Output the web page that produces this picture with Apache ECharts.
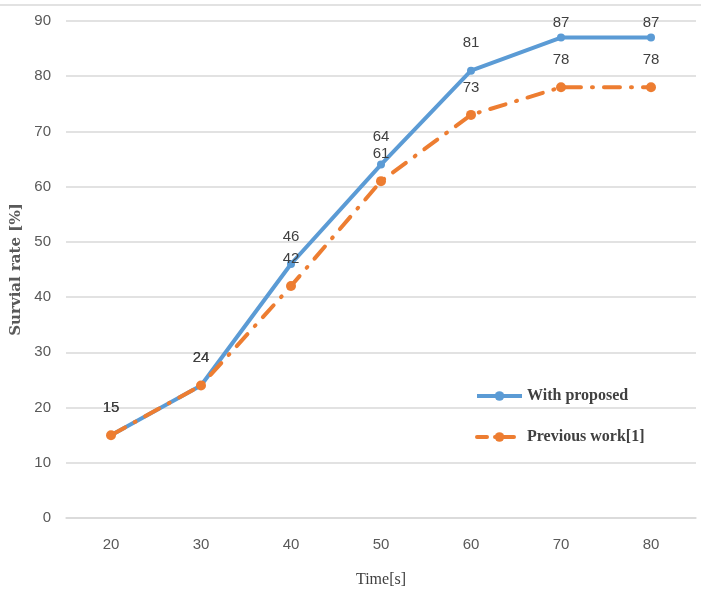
<!DOCTYPE html>
<html lang="en">
<head>
    <meta charset="UTF-8"/>
    <title>Survival Rate</title>
    <script src="https://cdn.jsdelivr.net/npm/echarts@6/dist/echarts.min.js"></script>
    <style>
        html, body { margin: 0; padding: 0; background: #fff; }
    </style>
</head>
<body>

<div id="main" style="width:701px; height:593px;"></div>

<script type="text/javascript">

    // time steps on the x axis
    var times = ['20', '30', '40', '50', '60', '70', '80'];

    // survival rate in percent
    var withProposed = [15, 24, 46, 64, 81, 87, 87];
    var previousWork = [15, 24, 42, 61, 73, 78, 78];

    var seriesNames = ['With proposed', 'Previous work[1]'];

    var labelFont = "'Liberation Sans', 'Noto Sans', sans-serif";
    var serifFont = "'Liberation Serif', 'DejaVu Serif', serif";

    var blue = '#5b9bd5';
    var orange = '#ed7d31';
    var dashDot = [16, 11, 1, 11];

    // labels close to the top of the plot sit nearer their point
    function withLabels(values, near) {
        return values.map(function (v) {
            if (v > 85) {
                return { value: v, label: { distance: near } };
            }
            return v;
        });
    }

    var myChart = echarts.init(document.getElementById('main'));

    var option = {
        animation: false,
        backgroundColor: '#ffffff',
        grid: {
            left: 66,
            right: 5,
            top: 21,
            bottom: 75
        },
        graphic: [{
            type: 'line',
            shape: { x1: 0, y1: 5, x2: 701, y2: 5 },
            style: { stroke: '#d9d9d9', lineWidth: 1.5 }
        }],
        legend: {
            orient: 'vertical',
            left: 470,
            top: 383,
            itemWidth: 45,
            itemHeight: 12,
            itemGap: 25,
            lineStyle: { width: 4 },
            textStyle: {
                fontFamily: serifFont,
                fontWeight: 'bold',
                fontSize: 16,
                color: '#404040'
            },
            data: [
                { name: seriesNames[0] },
                { name: seriesNames[1], lineStyle: { type: [10, 8, 1, 8], cap: 'round' } }
            ]
        },
        xAxis: {
            type: 'category',
            data: times,
            boundaryGap: true,
            name: 'Time[s]',
            nameLocation: 'middle',
            nameGap: 54,
            nameTextStyle: {
                fontFamily: serifFont,
                fontSize: 16,
                color: '#404040'
            },
            axisLine: { lineStyle: { color: '#d9d9d9', width: 1.5 } },
            axisTick: { show: false },
            axisLabel: {
                margin: 19,
                fontFamily: labelFont,
                fontSize: 15,
                color: '#595959'
            }
        },
        yAxis: {
            type: 'value',
            min: 0,
            max: 90,
            interval: 10,
            name: 'Survial rate [%]',
            nameLocation: 'middle',
            nameGap: 37,
            nameTextStyle: {
                fontFamily: "'DejaVu Serif', 'Liberation Serif', serif",
                fontWeight: 'bold',
                fontSize: 15,
                color: '#595959'
            },
            axisLine: { show: false },
            axisTick: { show: false },
            axisLabel: {
                margin: 15,
                fontFamily: labelFont,
                fontSize: 15,
                color: '#595959'
            },
            splitLine: { lineStyle: { color: '#d9d9d9', width: 1.5 } }
        },
        series: [
            {
                name: seriesNames[0],
                type: 'line',
                data: withLabels(withProposed, 3),
                symbol: 'circle',
                symbolSize: 8,
                itemStyle: { color: blue },
                lineStyle: { color: blue, width: 4 },
                label: {
                    show: true,
                    position: 'top',
                    distance: 16,
                    fontFamily: labelFont,
                    fontSize: 15,
                    color: '#404040'
                }
            },
            {
                name: seriesNames[1],
                type: 'line',
                data: previousWork,
                symbol: 'circle',
                symbolSize: 10,
                itemStyle: { color: orange },
                lineStyle: {
                    color: orange,
                    width: 4,
                    type: dashDot,
                    cap: 'round'
                },
                label: {
                    show: true,
                    position: 'top',
                    distance: 15,
                    fontFamily: labelFont,
                    fontSize: 15,
                    color: '#404040'
                }
            }
        ]
    };

    myChart.setOption(option);
</script>

</body>
</html>
